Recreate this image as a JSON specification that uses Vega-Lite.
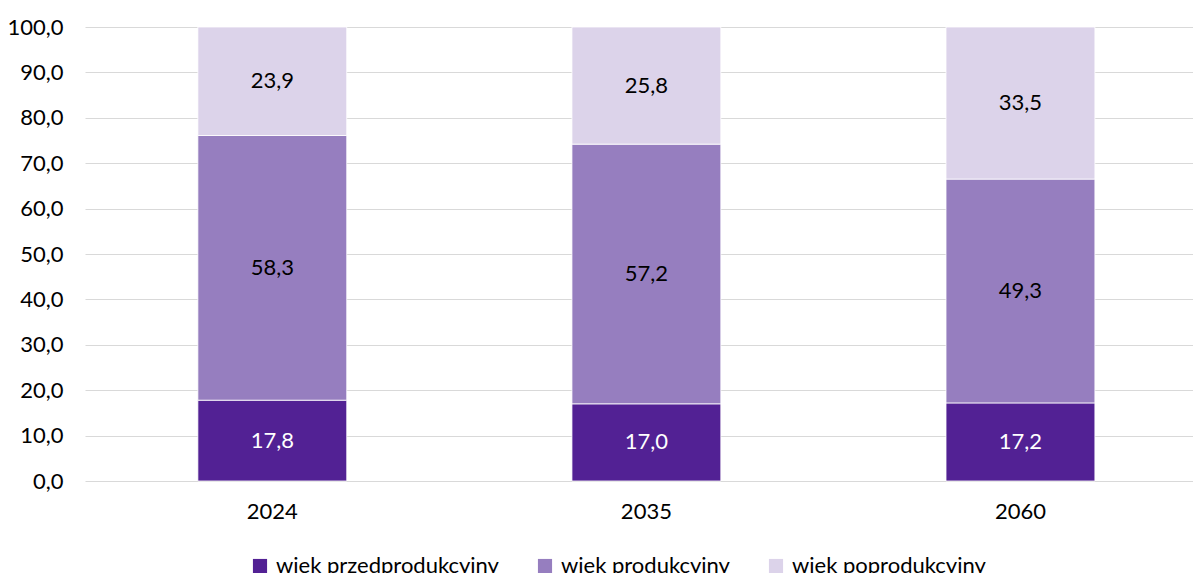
{
  "$schema": "https://vega.github.io/schema/vega-lite/v6.json",
  "width": 1108,
  "height": 454,
  "autosize": "none",
  "padding": {"left": 85, "top": 27, "right": 0, "bottom": 92},
  "background": "white",
  "config": {
    "view": {"stroke": null},
    "font": "Lato",
    "axis": {"labelFont": "Lato", "labelFontSize": 22, "labelColor": "#000000"},
    "legend": {"labelFont": "Lato", "labelFontSize": 22, "labelColor": "#000000"}
  },
  "data": {
    "values": [
      {"rok": "2024", "grupa": "wiek przedprodukcyjny", "ord": 1, "value": 17.8},
      {"rok": "2024", "grupa": "wiek produkcyjny", "ord": 2, "value": 58.3},
      {"rok": "2024", "grupa": "wiek poprodukcyjny", "ord": 3, "value": 23.9},
      {"rok": "2035", "grupa": "wiek przedprodukcyjny", "ord": 1, "value": 17.0},
      {"rok": "2035", "grupa": "wiek produkcyjny", "ord": 2, "value": 57.2},
      {"rok": "2035", "grupa": "wiek poprodukcyjny", "ord": 3, "value": 25.8},
      {"rok": "2060", "grupa": "wiek przedprodukcyjny", "ord": 1, "value": 17.2},
      {"rok": "2060", "grupa": "wiek produkcyjny", "ord": 2, "value": 49.3},
      {"rok": "2060", "grupa": "wiek poprodukcyjny", "ord": 3, "value": 33.5}
    ]
  },
  "transform": [
    {"stack": "value", "groupby": ["rok"], "sort": [{"field": "ord", "order": "ascending"}], "as": ["y0", "y1"]},
    {"calculate": "(datum.y0 + datum.y1) / 2", "as": "mid"},
    {"calculate": "replace(format(datum.value, '.1f'), '.', ',')", "as": "lbl"}
  ],
  "encoding": {
    "x": {
      "field": "rok", "type": "nominal", "title": null,
      "scale": {"paddingInner": 0.602, "paddingOuter": 0.282, "align": 0.535},
      "axis": {"labelAngle": 0, "ticks": false, "domain": false, "labelPadding": 20}
    }
  },
  "layer": [
    {
      "mark": {"type": "bar", "stroke": "white", "strokeWidth": 0.8},
      "encoding": {
        "y": {
          "field": "y0", "type": "quantitative", "title": null,
          "scale": {"domain": [0, 100]},
          "axis": {"values": [0,10,20,30,40,50,60,70,80,90,100], "labelExpr": "replace(format(datum.value, '.1f'), '.', ',')", "ticks": false, "domain": false, "gridColor": "#d9d9d9", "gridWidth": 1, "labelPadding": 22}
        },
        "y2": {"field": "y1"},
        "color": {
          "field": "grupa", "type": "nominal", "title": null,
          "scale": {"domain": ["wiek przedprodukcyjny", "wiek produkcyjny", "wiek poprodukcyjny"], "range": ["#522194", "#967ebf", "#dcd3ea"]},
          "legend": {"orient": "none", "legendX": 164, "legendY": 528, "direction": "horizontal", "symbolType": "square", "symbolSize": 200, "symbolStrokeWidth": 0, "columnPadding": 35, "labelLimit": 400, "labelOffset": 5}
        },
        "order": {"field": "ord"}
      }
    },
    {
      "mark": {"type": "text", "fontSize": 22, "baseline": "middle", "align": "center"},
      "encoding": {
        "y": {"field": "mid", "type": "quantitative"},
        "text": {"field": "lbl"},
        "color": {
          "condition": {"test": "datum.ord === 1", "value": "white"},
          "value": "black"
        }
      }
    }
  ]
}
